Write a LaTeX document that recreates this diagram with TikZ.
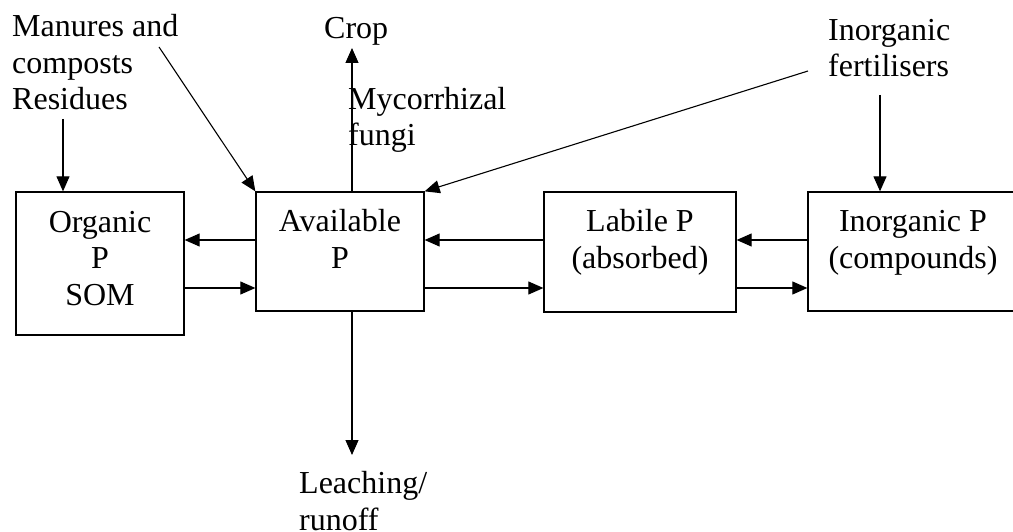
\documentclass[tikz,border=0pt]{standalone}
\usepackage{fontspec}
\setmainfont{Liberation Serif}
\usetikzlibrary{arrows.meta}
\begin{document}
\begin{tikzpicture}[x=1pt,y=-1pt,
  every node/.style={font=\fontsize{32}{36.5}\selectfont, inner sep=0pt},
  pool/.style={draw, line width=1.3pt, rectangle},
  boxtext/.style={anchor=base, align=center},
  tag/.style={anchor=base west, align=left},
  flow/.style={line width=1.1pt, -{Triangle[length=15pt,width=13pt]}},
  plain/.style={line width=1pt}]
\useasboundingbox (0,0) rectangle (1013,532);

% pools
\node[pool, minimum width=168pt, minimum height=143pt] (org)   at (100,263.5) {};
\node[pool, minimum width=168pt, minimum height=119pt] (avail) at (340,251.5) {};
\node[pool, minimum width=192pt, minimum height=120pt] (lab)   at (640,252)   {};
\node[pool, minimum width=210pt, minimum height=119pt] (inorg) at (913,251.5) {};

% pool labels (each placed by the baseline of its last line)
\node[boxtext] (orgT)   at (100,305) {Organic\\P\\SOM};
\node[boxtext] (availT) at (340,268) {Available\\P};
\node[boxtext] (labT)   at (640,268) {Labile P\\(absorbed)};
\node[boxtext] (inorgT) at (913,268) {Inorganic P\\(compounds)};

% inputs and outputs
\node[tag] (manures) at (12,110)  {Manures and\\composts\\Residues};
\node[tag] (crop)    at (324,39)  {Crop};
\node[tag] (myco)    at (348,146) {Mycorrhizal\\fungi};
\node[tag] (fert)    at (828,77)  {Inorganic\\fertilisers};
\node[tag] (leach)   at (299,530) {Leaching/\\runoff};

% free ends of the connectors
\coordinate (resStart)  at (63,119);
\coordinate (manStart)  at (159,47);
\coordinate (cropTip)   at (352,48);
\coordinate (leachTip)  at (352,455);
\coordinate (fertStart) at (808,71);
\coordinate (fertDown)  at (880,95);
\coordinate (upper) at (0,240);
\coordinate (lower) at (0,288);

% additions
\draw[flow] (resStart) -- (resStart |- org.north);
\draw[flow] (manStart) -- (avail.north west);
\draw[flow] (fertStart) -- (avail.north east);
\draw[flow] (fertDown) -- (fertDown |- inorg.north);

% uptake and losses
\draw[flow] (cropTip |- avail.north) -- (cropTip);
\draw[flow] (leachTip |- avail.south) -- (leachTip);

% exchanges between pools
\draw[flow] (avail.west |- upper) -- (org.east |- upper);
\draw[flow] (org.east |- lower) -- (avail.west |- lower);
\draw[flow] (lab.west |- upper) -- (avail.east |- upper);
\draw[flow] (avail.east |- lower) -- (lab.west |- lower);
\draw[flow] (inorg.west |- upper) -- (lab.east |- upper);
\draw[flow] (lab.east |- lower) -- (inorg.west |- lower);
\end{tikzpicture}
\end{document}
